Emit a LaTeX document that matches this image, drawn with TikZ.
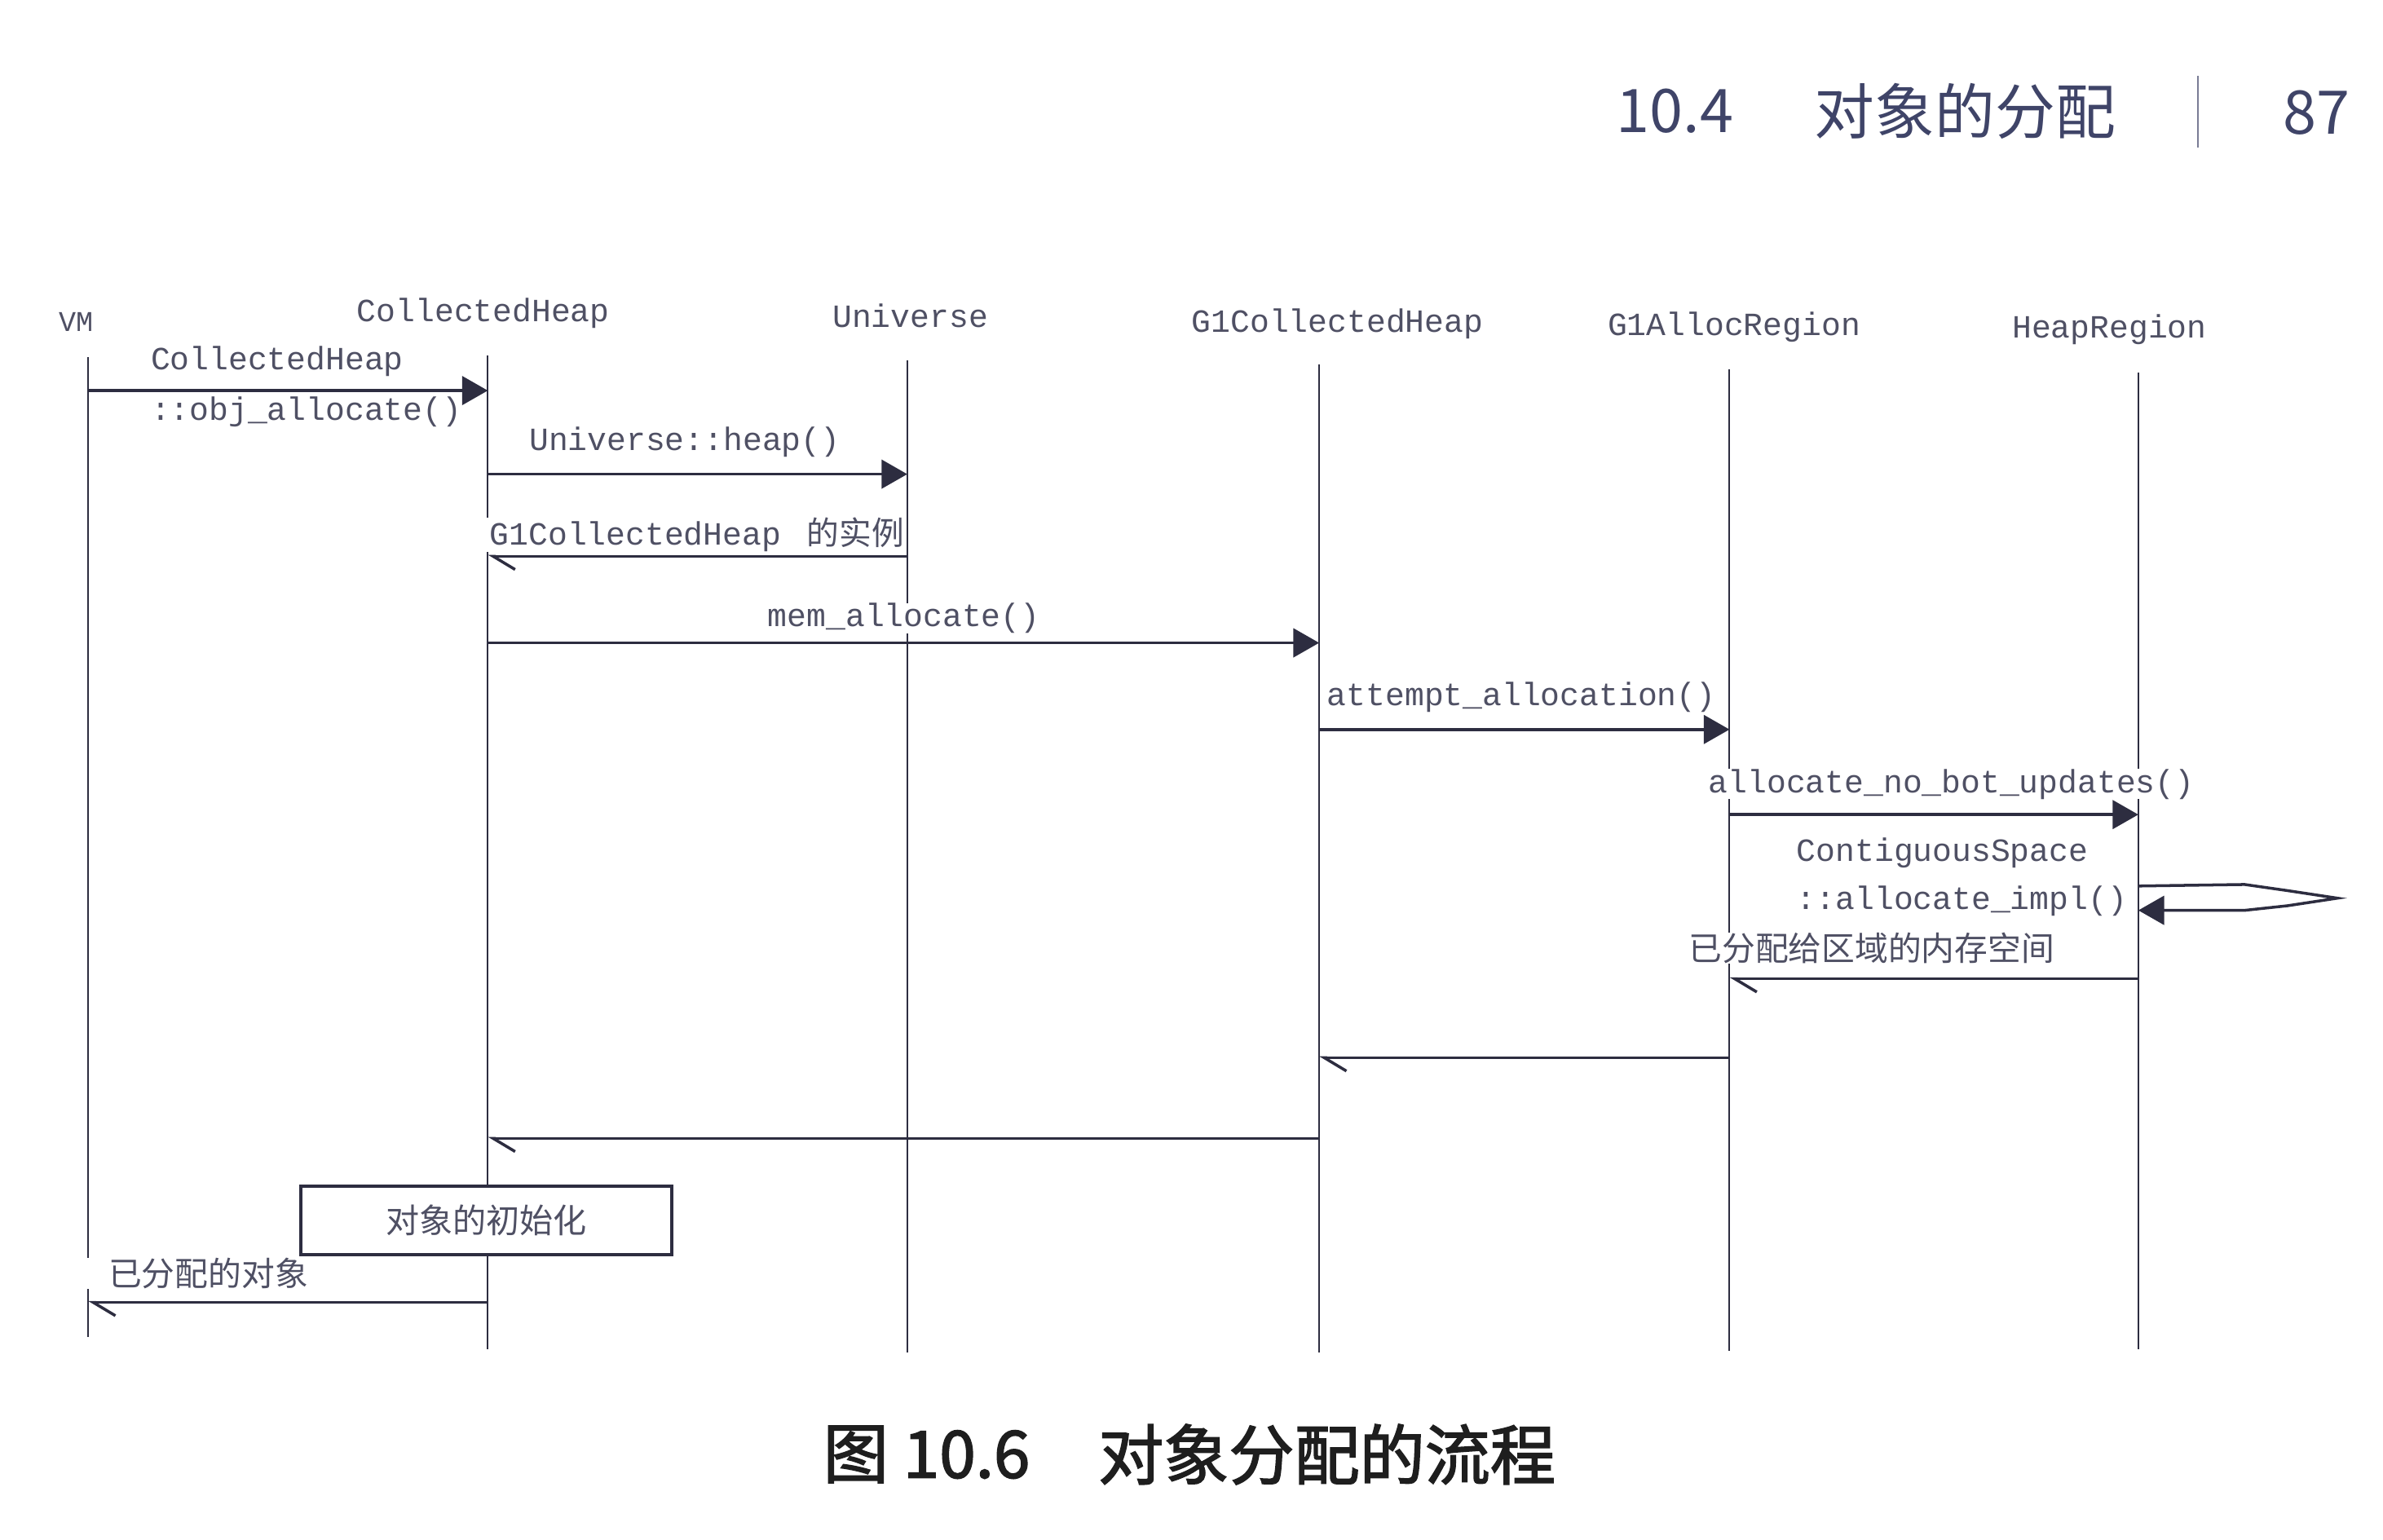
\documentclass[tikz,border=0pt]{standalone}
\usepackage{fontspec}
\setmainfont{Liberation Sans}
\setmonofont{Liberation Mono}
\newfontfamily\cjk{Noto Sans CJK SC}
\newfontfamily\capfont{Noto Sans CJK SC}[FakeBold=2]
\usepackage{xcolor}
\usetikzlibrary{positioning, arrows.meta}

\definecolor{inkline}{HTML}{2D2D40}
\definecolor{inktext}{HTML}{4F5064}
\definecolor{inkhead}{HTML}{3F4468}
\definecolor{inkcap}{HTML}{1E1E1E}

\begin{document}
\begin{tikzpicture}[
    x=0.01864cm, y=-0.01864cm,
    participant/.style={font=\ttfamily\fontsize{11.3}{14}\selectfont, text=inktext, inner sep=1pt},
    lifeline/.style={draw=inkline, line width=0.6pt},
    msg/.style={font=\ttfamily\fontsize{11.3}{14}\selectfont, text=inktext, fill=white,
      inner xsep=1pt, inner ysep=0pt, anchor=west},
    call/.style={draw=inkline, line width=1pt, -{Triangle[length=9pt, width=10pt]}},
    reply/.style={draw=inkline, line width=1pt, -{Straight Barb[harpoon, angle=62:9pt, line width=1pt]}},
    activity/.style={draw=inkline, line width=1pt, fill=white, minimum width=4.55cm,
      minimum height=0.84cm, font=\cjk\fontsize{11.7}{14}\selectfont, text=inktext},
    head/.style={font=\cjk\fontsize{21}{25}\selectfont, text=inkhead, inner sep=0pt},
    caption/.style={font=\capfont\fontsize{22.8}{27}\selectfont, text=inkcap, anchor=west},
  ]
  \useasboundingbox[fill=white] (0,0) rectangle (1568,1013);

  % page header
  \node[head] (secno) at (1102,73) {10.4};
  \node[head] (sectitle) at (1293,73) {对象的分配};
  \node[head] (pageno) at (1524,74) {87};
  \draw[inkhead!70, line width=0.6pt] (1446,50) -- (1446,97);

  % participants
  \node[participant, font=\ttfamily\fontsize{10}{12}\selectfont] (vm) at (50,212) {VM};
  \node[participant] (ch) at (318,206) {CollectedHeap};
  \node[participant] (uni) at (599,208) {Universe};
  \node[participant] (g1h) at (880,213) {G1CollectedHeap};
  \node[participant] (ar) at (1141,215) {G1AllocRegion};
  \node[participant] (hr) at (1388,217) {HeapRegion};

  % lifelines
  \coordinate (vmL) at (58,235);
  \coordinate (chL) at (321,234);
  \coordinate (uniL) at (597,237);
  \coordinate (g1hL) at (868,240);
  \coordinate (arL) at (1138,243);
  \coordinate (hrL) at (1407,245);
  \draw[lifeline] (vmL) -- (vmL |- 0,880);
  \draw[lifeline] (chL) -- (chL |- 0,888);
  \draw[lifeline] (uniL) -- (uniL |- 0,890);
  \draw[lifeline] (g1hL) -- (g1hL |- 0,890);
  \draw[lifeline] (arL) -- (arL |- 0,889);
  \draw[lifeline] (hrL) -- (hrL |- 0,888);

  % message rows
  \coordinate (m1) at (0,257);
  \coordinate (m2) at (0,312);
  \coordinate (m3) at (0,366);
  \coordinate (m4) at (0,423);
  \coordinate (m5) at (0,480);
  \coordinate (m6) at (0,536);
  \coordinate (s1) at (0,583);
  \coordinate (s2) at (0,599);
  \coordinate (m8) at (0,644);
  \coordinate (m9) at (0,696);
  \coordinate (m10) at (0,749);
  \coordinate (m12) at (0,857);

  % labels
  \node[msg] (l1a) at (97,238) {CollectedHeap};
  \node[msg] (l1b) at (97,271) {::obj\_allocate()};
  \node[msg] (l2) at (346,291) {Universe::heap()};
  \node[msg] (l3) at (320,352) {G1CollectedHeap\hspace{9pt}{\cjk 的实例}};
  \node[msg] (l4) at (503,407) {mem\_allocate()};
  \node[msg] (l5) at (871,459) {attempt\_allocation()};
  \node[msg] (l6) at (1122,516) {allocate\_no\_bot\_updates()};
  \node[msg] (l7a) at (1180,561) {ContiguousSpace};
  \node[msg] (l7b) at (1180,593) {::allocate\_impl()};
  \node[msg, font=\cjk\fontsize{11.6}{14}\selectfont] (l8) at (1109,624) {已分配给区域的内存空间};
  \node[msg, font=\cjk\fontsize{11.6}{14}\selectfont, inner xsep=8pt] (l12) at (56,838) {已分配的对象};
  \node[activity] (init) at (320,803) {对象的初始化};

  % messages
  \draw[call] (vmL |- m1) -- (chL |- m1);
  \draw[call] (chL |- m2) -- (uniL |- m2);
  \draw[reply] (uniL |- m3) -- (chL |- m3);
  \draw[call] (chL |- m4) -- (g1hL |- m4);
  \draw[call] (g1hL |- m5) -- (arL |- m5);
  \draw[call] (arL |- m6) -- (hrL |- m6);
  \draw[call] (hrL |- s1) -- (1477,582) -- (1505,586) -- (1538,591)
    -- (1505,596) -- (1477,599) -- (hrL |- s2);
  \draw[reply] (hrL |- m8) -- (arL |- m8);
  \draw[reply] (arL |- m9) -- (g1hL |- m9);
  \draw[reply] (g1hL |- m10) -- (chL |- m10);
  \draw[reply] (chL |- m12) -- (vmL |- m12);

  % caption
  \node[caption] (capno) at (535,957) {图 10.6};
  \node[caption] (captext) at (716,957) {对象分配的流程};
\end{tikzpicture}
\end{document}
